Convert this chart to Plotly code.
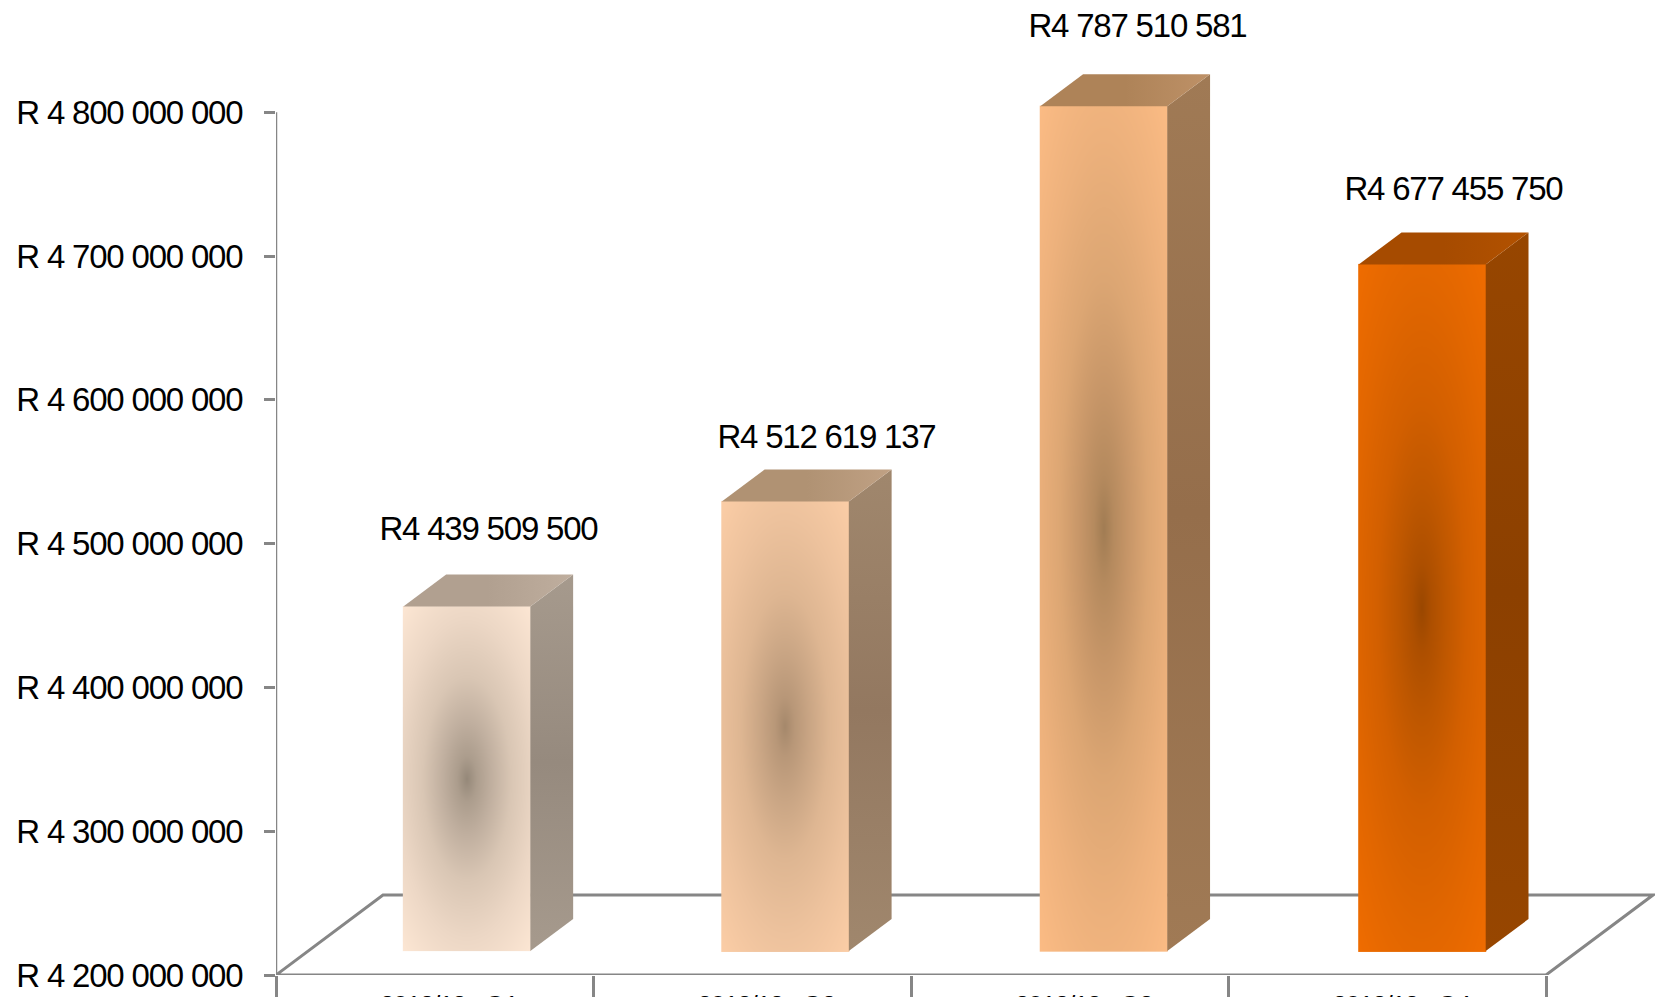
import numpy as np
import plotly.graph_objects as go

categories = ["2012/13 - Q1", "2012/13 - Q2", "2012/13 - Q3", "2012/13 - Q4"]
values = [4439509500, 4512619137, 4787510581, 4677455750]
value_labels = ["R4 439 509 500", "R4 512 619 137", "R4 787 510 581", "R4 677 455 750"]
y_ticks = [4200000000, 4300000000, 4400000000, 4500000000, 4600000000, 4700000000, 4800000000]
y_tick_labels = ["R 4 200 000 000", "R 4 300 000 000", "R 4 400 000 000", "R 4 500 000 000",
                 "R 4 600 000 000", "R 4 700 000 000", "R 4 800 000 000"]

edge_colors = ["#FCE6D3", "#FBCDA6", "#FBBB84", "#EF6C00"]
center_colors = ["#958879", "#A5886B", "#A17C53", "#9A4700"]
side_colors = ["#A69A8D", "#A0876D", "#A07A55", "#974600"]
side_mid_colors = ["#968A7E", "#937860", "#956E4B", "#8C4000"]
top_colors = ["#BFAE9E", "#C0A184", "#BE9167", "#B35200"]
top_mid_colors = ["#B1A090", "#B09273", "#AE8358", "#A64B00"]
label_dx = [22, 41, 34, 31]
label_dy = [78, 65, 81, 76]

# page sits 8px in from the window edge because of the default body margin
PAGE = 8
FONT = "Liberation Sans"
# pixel scales of the page, used to place the fake 3D depth
PX_X = 317.5
PX_Y = 143.8 / 100000000
BASE = 4200000000
FLOOR_DX = 107 / PX_X
FLOOR_DY = 80 / PX_Y
BAR_W = 127 / PX_X
# bars stand 30% into the floor and end at 70%
NEAR = 0.3
FAR = 0.7
AXIS_GREY = "#868686"


def mix(c1, c2, t):
    a = [int(c1[i:i + 2], 16) for i in (1, 3, 5)]
    b = [int(c2[i:i + 2], 16) for i in (1, 3, 5)]
    return "rgb(%d,%d,%d)" % tuple(round(p + (q - p) * t) for p, q in zip(a, b))


fig = go.Figure()

for i, v in enumerate(values):
    # bar pitch in the original is a touch wider than the category width
    x0 = i * 1.003 - BAR_W / 2 + NEAR * FLOOR_DX
    x1 = x0 + BAR_W
    y0 = BASE + NEAR * FLOOR_DY
    y1 = v + NEAR * FLOOR_DY
    dx = (FAR - NEAR) * FLOOR_DX
    dy = (FAR - NEAR) * FLOOR_DY

    # front face, elliptical shading towards the middle of the bar
    xs = np.linspace(x0, x1, 128)
    ys = np.linspace(y0, y1, int((y1 - y0) * PX_Y))
    gx, gy = np.meshgrid(np.linspace(-1, 1, xs.size), np.linspace(-1, 1, ys.size))
    shade = np.minimum(np.sqrt(0.72 * gx ** 2 + gy ** 2) / np.sqrt(1.72), 1)
    fig.add_trace(go.Heatmap(
        x=xs, y=ys, z=shade, zmin=0, zmax=1, showscale=False, hoverinfo="skip",
        colorscale=[
            [0, center_colors[i]],
            [0.1, mix(center_colors[i], edge_colors[i], 0.22)],
            [0.25, mix(center_colors[i], edge_colors[i], 0.42)],
            [0.45, mix(center_colors[i], edge_colors[i], 0.66)],
            [0.71, mix(center_colors[i], edge_colors[i], 0.84)],
            [1, edge_colors[i]],
        ],
    ))
    # side face
    fig.add_trace(go.Scatter(
        x=[x1, x1 + dx, x1 + dx, x1, x1], y=[y0, y0 + dy, y1 + dy, y1, y0],
        mode="lines", fill="toself", line={"width": 0}, hoverinfo="skip", showlegend=False,
        fillgradient={"type": "vertical", "colorscale": [
            [0, side_colors[i]], [0.5, side_mid_colors[i]], [1, side_colors[i]],
        ]},
    ))
    # top face
    fig.add_trace(go.Scatter(
        x=[x0, x1, x1 + dx, x0 + dx, x0], y=[y1, y1, y1 + dy, y1 + dy, y1],
        mode="lines", fill="toself", line={"width": 0}, hoverinfo="skip", showlegend=False,
        fillgradient={"type": "horizontal", "colorscale": [
            [0, top_mid_colors[i]], [0.5, top_mid_colors[i]], [1, top_colors[i]],
        ]},
    ))
    fig.add_annotation(
        x=i, y=y1, xref="x", yref="y", text=value_labels[i], showarrow=False,
        xshift=label_dx[i] + (x0 + BAR_W / 2 - i) * PX_X, yshift=label_dy[i],
        font={"family": FONT, "size": 33, "color": "#000000"},
    )

# floor and value axis sit behind the bars
floor_line = {"color": AXIS_GREY, "width": 3}
fig.add_shape(type="path", xref="x", yref="y", layer="below", line=floor_line,
              path=f"M -0.5 {BASE} L 3.5 {BASE} L {3.5 + FLOOR_DX} {BASE + FLOOR_DY} "
                   f"L {-0.5 + FLOOR_DX} {BASE + FLOOR_DY} Z")
fig.add_shape(type="line", xref="x", yref="y", layer="below", x0=-0.5, x1=-0.5, y0=BASE, y1=y_ticks[-1],
              line={"color": AXIS_GREY, "width": 2.5})

fig.update_layout(
    width=1663 - PAGE, height=997 - PAGE,
    margin={"l": 276 - PAGE, "r": 0, "t": 0, "b": 22, "autoexpand": False},
    paper_bgcolor="#FFFFFF", plot_bgcolor="#FFFFFF",
    showlegend=False,
    font={"family": FONT, "size": 33, "color": "#000000"},
    xaxis={
        "range": [-0.5, 3.5 + 117 / PX_X],
        "showgrid": False, "zeroline": False, "showline": False,
        "tickmode": "array", "tickvals": [0.044, 1.044, 2.044, 3.044], "ticktext": categories,
        "ticks": "", "ticklabelstandoff": 12,
        "tickfont": {"family": FONT, "size": 26},
        "minor": {"tickmode": "array", "tickvals": [-0.5, 0.5, 1.5, 2.5, 3.5], "ticks": "outside",
                  "ticklen": 24, "tickwidth": 2.5, "tickcolor": AXIS_GREY, "showgrid": False},
    },
    yaxis={
        "range": [BASE, BASE + (975 - PAGE) / PX_Y],
        "showgrid": False, "zeroline": False, "showline": False,
        "tickmode": "array", "tickvals": y_ticks, "ticktext": y_tick_labels,
        "ticks": "outside", "ticklen": 11, "tickwidth": 2.5, "tickcolor": AXIS_GREY,
        "ticklabelstandoff": 15,
        "tickfont": {"family": FONT, "size": 33},
    },
)

# the original labels use a condensed face, tighten the letters to get the same widths
squeeze = """
var gd = document.getElementById('{plot_id}');
function squeeze() {
  gd.querySelectorAll('text').forEach(function (t) { t.style.letterSpacing = '-1.2px'; });
}
squeeze();
gd.on('plotly_afterplot', squeeze);
"""

fig.write_html("out.html", post_script=squeeze)
